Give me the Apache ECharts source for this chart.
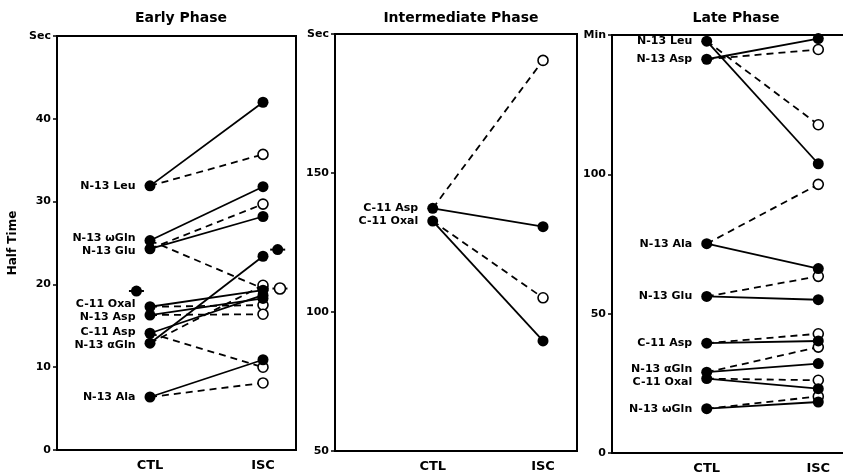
<!DOCTYPE html>
<html>
<head>
<meta charset="utf-8">
<script src="https://cdn.jsdelivr.net/npm/echarts@6/dist/echarts.min.js"></script>
<style>
	html, body {margin: 0; padding: 0; background: #fff;}
	#main {width: 843px; height: 474px;}
</style>
</head>
<body>
<div id="main"></div>
<script>
var xLabels = ["CTL", "ISC"];

// Early phase (sec)
var earlyNames = ["N-13 Leu", "N-13 ωGln", "N-13 Glu", "C-11 Oxal", "N-13 Asp", "C-11 Asp", "N-13 αGln", "N-13 Ala"];
var earlyCtl = [31.9, 25.3, 24.3, 17.3, 16.3, 14.1, 12.9, 6.4];
var earlyIscSolid = [42.0, 31.8, 28.2, 19.3, 18.3, 18.7, 23.4, 10.9];
var earlyIscDash = [35.7, 19.5, 29.7, 17.5, 16.4, 10.0, 19.9, 8.1];
// mean markers beside the columns
var earlyMeanCtl = [19.2];
var earlyMeanIscSolid = [24.2];
var earlyMeanIscDash = [19.5];
var meanCtlX = -0.12;
var meanIscX = 1.13;

// Intermediate phase (sec)
var midNames = ["C-11 Asp", "C-11 Oxal"];
var midCtl = [137.3, 132.7];
var midIscSolid = [130.7, 89.6];
var midIscDash = [190.5, 105.1];

// Late phase (min)
var lateNames = ["N-13 Leu", "N-13 Asp", "N-13 Ala", "N-13 Glu", "C-11 Asp", "N-13 αGln", "C-11 Oxal", "N-13 ωGln"];
var lateCtl = [147.8, 141.3, 75.1, 56.2, 39.4, 29.0, 26.7, 15.9];
var lateIscSolid = [103.8, 148.7, 66.2, 55.0, 40.2, 32.1, 23.1, 18.3];
var lateIscDash = [117.8, 144.8, 96.4, 63.4, 42.8, 38.0, 26.1, 20.3];

var FONT = "DejaVu Sans";
var LABEL_GAP = 13;

// spread the name labels so that they do not sit on each other
function labelShifts (vals, pxPerUnit) {
	var ys = vals.map(function (v) { return -v * pxPerUnit; });
	var out = ys.slice();
	for (var i = 1; i < out.length; i++) {
		if (out[i] - out[i - 1] < LABEL_GAP) {
			out[i] = out[i - 1] + LABEL_GAP;
		}
	}
	// centre every pushed cluster around its points
	var i0 = 0;
	for (var j = 1; j <= out.length; j++) {
		if (j === out.length || out[j] - out[j - 1] > LABEL_GAP + 0.01) {
			var push = out[j - 1] - ys[j - 1];
			for (var k = i0; k < j; k++) out[k] -= push / 2;
			i0 = j;
		}
	}
	return out.map(function (y, n) { return y - ys[n]; });
}

var FILLED = {color: "#000", opacity: 1};
var OPEN = {color: "#fff", borderColor: "#000", borderWidth: 1.6, opacity: 1};

function panelSeries (idx, names, ctl, iscSolid, iscDash, pxPerUnit) {
	var s = [];
	for (var i = 0; i < ctl.length; i++) {
		s.push({
			type: "line", xAxisIndex: idx, yAxisIndex: idx, symbol: "none", silent: true, z: 2,
			data: [[0, ctl[i]], [1, iscSolid[i]]],
			lineStyle: {color: "#000", width: 1.8}
		});
		s.push({
			type: "line", xAxisIndex: idx, yAxisIndex: idx, symbol: "none", silent: true, z: 2,
			data: [[0, ctl[i]], [1, iscDash[i]]],
			lineStyle: {color: "#000", width: 1.8, type: [7, 5]}
		});
	}
	// ISC ends
	s.push({
		type: "scatter", xAxisIndex: idx, yAxisIndex: idx, symbolSize: 10, z: 4,
		data: iscDash.map(function (v) { return [1, v]; }),
		itemStyle: OPEN
	});
	s.push({
		type: "scatter", xAxisIndex: idx, yAxisIndex: idx, symbolSize: 11, z: 5,
		data: iscSolid.map(function (v) { return [1, v]; }),
		itemStyle: FILLED
	});
	// CTL points with the compound names
	var dys = labelShifts(ctl, pxPerUnit);
	s.push({
		type: "scatter", xAxisIndex: idx, yAxisIndex: idx, symbolSize: 11, z: 5,
		data: ctl.map(function (v, n) {
			return {value: [0, v], label: {offset: [0, dys[n]]}};
		}),
		itemStyle: FILLED,
		label: {
			show: true, position: "left", distance: 9,
			fontFamily: FONT, fontWeight: "bold", fontSize: 11, color: "#000",
			formatter: function (p) { return names[p.dataIndex]; }
		}
	});
	return s;
}

function meanSeries () {
	var s = [];
	var pts = [[meanCtlX, earlyMeanCtl[0]], [meanIscX, earlyMeanIscSolid[0]], [meanIscX + 0.02, earlyMeanIscDash[0]]];
	s.push({
		type: "scatter", xAxisIndex: 0, yAxisIndex: 0, symbol: "rect", symbolSize: [15, 2], z: 3,
		data: pts, itemStyle: FILLED
	});
	s.push({
		type: "scatter", xAxisIndex: 0, yAxisIndex: 0, symbolSize: 11, z: 4,
		data: pts.slice(0, 2), itemStyle: FILLED
	});
	s.push({
		type: "scatter", xAxisIndex: 0, yAxisIndex: 0, symbolSize: 11, z: 4,
		data: pts.slice(2), itemStyle: OPEN
	});
	return s;
}

function xAx (idx, min, max) {
	return {
		type: "value", gridIndex: idx, min: min, max: max,
		axisLine: {show: false, onZero: false}, axisTick: {show: false}, splitLine: {show: false},
		axisLabel: {
			customValues: [0, 1], margin: 9,
			fontFamily: FONT, fontWeight: "bold", fontSize: 13, color: "#000",
			formatter: function (v) { return xLabels[Math.round(v)]; }
		}
	};
}

function yAx (idx, min, max, interval, unit, name) {
	return {
		type: "value", gridIndex: idx, min: min, max: max, interval: interval,
		name: name || "", nameLocation: "middle", nameGap: 38,
		nameTextStyle: {fontFamily: FONT, fontWeight: "bold", fontSize: 12, color: "#000"},
		axisLine: {show: false, onZero: false}, splitLine: {show: false},
		axisTick: {show: true, length: 4, lineStyle: {color: "#000", width: 1.5}},
		axisLabel: {
			margin: 6, fontFamily: FONT, fontWeight: "bold", fontSize: 11, color: "#000",
			formatter: function (v) { return v === max ? unit : v; }
		}
	};
}

function init () {
	var cc = echarts.init(document.getElementById("main"));

	var grids = [
		{left: 57, top: 36, width: 239, height: 414},
		{left: 335, top: 34, width: 242, height: 417},
		{left: 612, top: 35, width: 245, height: 418}
	];
	grids.forEach(function (g) {
		g.show = true;
		g.borderColor = "#000";
		g.borderWidth = 2;
		g.backgroundColor = "transparent";
		g.outerBoundsMode = "none";
	});

	var series = [].concat(
		panelSeries(0, earlyNames, earlyCtl, earlyIscSolid, earlyIscDash, 414 / 50),
		meanSeries(),
		panelSeries(1, midNames, midCtl, midIscSolid, midIscDash, 417 / 150),
		panelSeries(2, lateNames, lateCtl, lateIscSolid, lateIscDash, 418 / 150)
	);

	var titleStyle = {fontFamily: FONT, fontWeight: "bold", fontSize: 14, color: "#000"};

	var op = {
		animation: false,
		title: [
			{text: "Early Phase", left: 176, top: 6, textAlign: "center", textStyle: titleStyle},
			{text: "Intermediate Phase", left: 456, top: 6, textAlign: "center", textStyle: titleStyle},
			{text: "Late Phase", left: 731, top: 6, textAlign: "center", textStyle: titleStyle}
		],
		grid: grids,
		xAxis: [
			xAx(0, -0.823, 1.292),
			xAx(1, -0.886, 1.308),
			xAx(2, -0.849, 1.347)
		],
		yAxis: [
			yAx(0, 0, 50, 10, "Sec", "Half Time"),
			yAx(1, 50, 200, 50, "Sec"),
			yAx(2, 0, 150, 50, "Min")
		],
		series: series
	};

	cc.setOption(op);
}

init();
</script>
</body>
</html>
